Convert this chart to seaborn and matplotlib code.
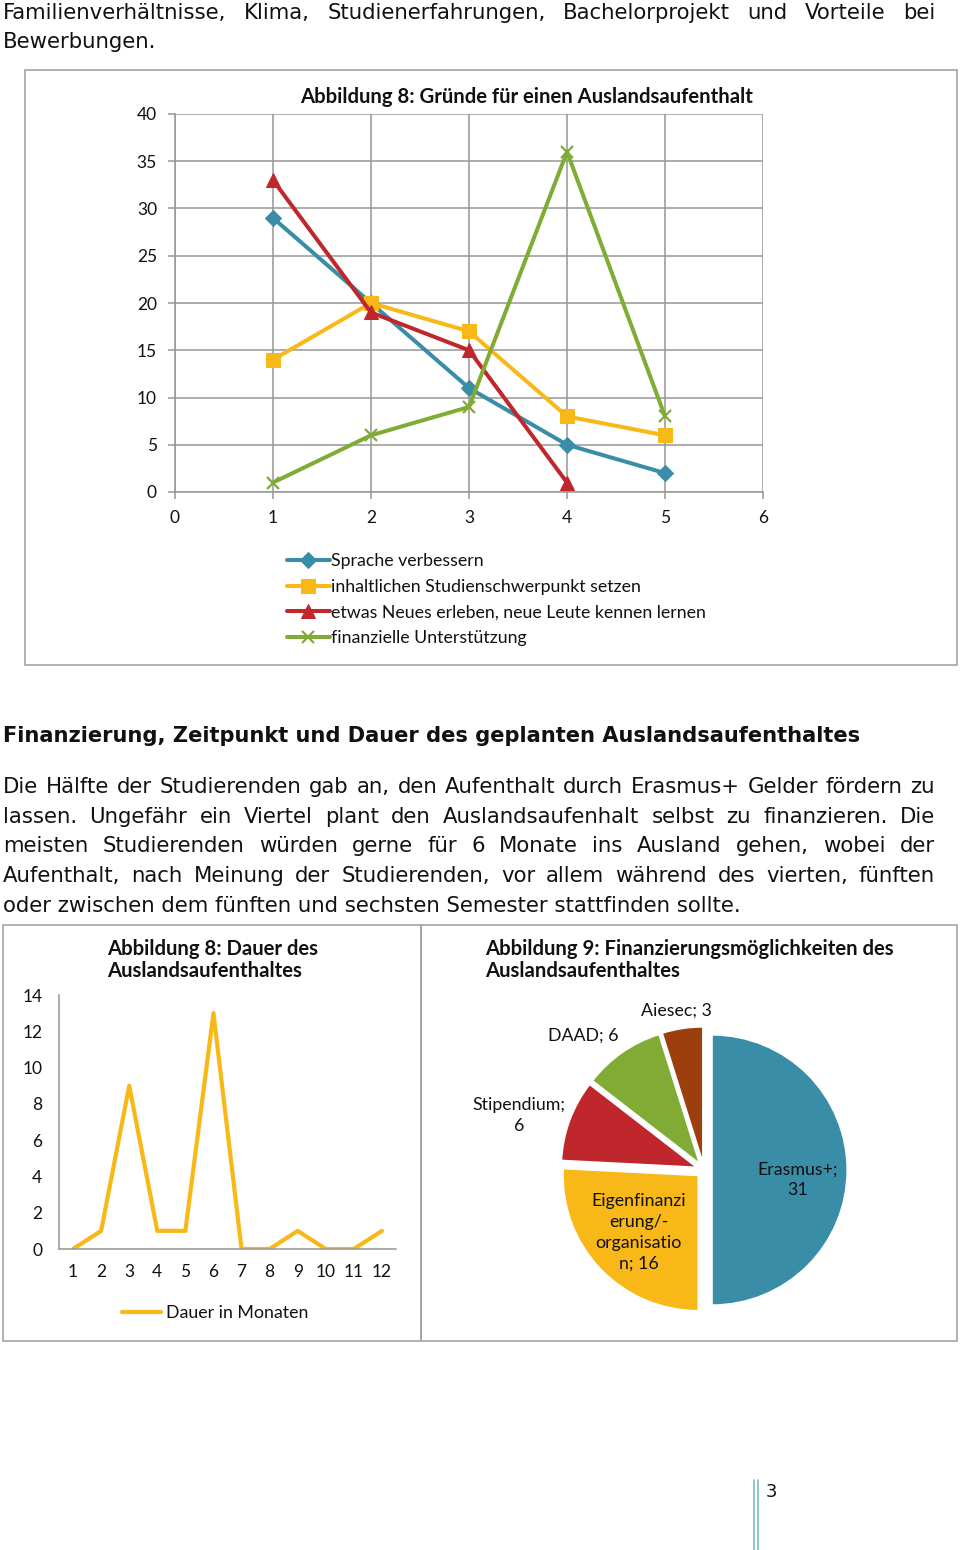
import numpy as np
import pandas as pd
import matplotlib
matplotlib.use("Agg")
import matplotlib.pyplot as plt
import seaborn as sns
from matplotlib.patches import Rectangle
from matplotlib.lines import Line2D

# ---------------- data ----------------
reason_x = [1, 2, 3, 4, 5]
sprache = [29, 20, 11, 5, 2]
inhalt = [14, 20, 17, 8, 6]
neues_x = [1, 2, 3, 4]
neues = [33, 19, 15, 1]
finanz = [1, 6, 9, 36, 8]
reason_names = ["Sprache verbessern",
                "inhaltlichen Studienschwerpunkt setzen",
                "etwas Neues erleben, neue Leute kennen lernen",
                "finanzielle Unterstützung"]

monate = [1, 2, 3, 4, 5, 6, 7, 8, 9, 10, 11, 12]
dauer = [0, 1, 9, 1, 1, 13, 0, 0, 1, 0, 0, 1]

fin_names = ["Erasmus+;\n", "Eigenfinanzi\nerung/-\norganisatio\nn; ",
             "Stipendium;\n", "DAAD; ", "Aiesec; "]
fin_values = [31, 16, 6, 6, 3]

top_text = ["Familienverhältnisse, Klima, Studienerfahrungen, Bachelorprojekt und Vorteile bei",
            "Bewerbungen."]
heading = "Finanzierung, Zeitpunkt und Dauer des geplanten Auslandsaufenthaltes"
body = ["Die Hälfte der Studierenden gab an, den Aufenthalt durch Erasmus+ Gelder fördern zu",
        "lassen. Ungefähr ein Viertel plant den Auslandsaufenhalt selbst zu finanzieren. Die",
        "meisten Studierenden würden gerne für 6 Monate ins Ausland gehen, wobei der",
        "Aufenthalt, nach Meinung der Studierenden, vor allem während des vierten, fünften",
        "oder zwischen dem fünften und sechsten Semester stattfinden sollte."]

# ---------------- style ----------------
BLUE = "#3a8da7"
YELLOW = "#f8b817"
RED = "#c0272d"
GREEN = "#80ac36"
BROWN = "#9b400c"
GRID = "#969696"
BOX = "#a3a3a3"
TXT = "#111111"
TITLE_FS = 14.6
LABEL_FS = 12.8

sns.set_theme(style="white")
plt.rcParams["font.family"] = ["Lato", "DejaVu Sans"]

W, H = 960, 1550
fig = plt.figure(figsize=(9.6, 15.5), dpi=100)
renderer = fig.canvas.get_renderer()


def fx(x):
    return x / W


def fy(y):
    return 1 - y / H


def axes_px(l, t, r, b):
    return fig.add_axes([fx(l), fy(b), (r - l) / W, (b - t) / H])


def text_width(s, size, weight="normal"):
    t = fig.text(0, 0, s, fontsize=size, fontweight=weight, family="DejaVu Sans")
    w = t.get_window_extent(renderer).width
    t.remove()
    return w


def justify(line, y, size, x0=3, x1=935, weight="normal"):
    words = line.split(" ")
    widths = [text_width(w, size, weight) for w in words]
    gap = (x1 - x0 - sum(widths)) / (len(words) - 1)
    x = x0
    for w, wd in zip(words, widths):
        fig.text(fx(x), fy(y), w, fontsize=size, fontweight=weight,
                 family="DejaVu Sans", va="baseline", ha="left", color=TXT)
        x += wd + gap


def left_text(line, y, size, x0=3, weight="normal"):
    fig.text(fx(x0), fy(y), line, fontsize=size, fontweight=weight,
             family="DejaVu Sans", va="baseline", ha="left", color=TXT)


body_size = 15 * 742 / text_width(body[-1], 15)
head_size = 15 * 859 / text_width(heading, 15, "bold")

# ---------------- page text ----------------
justify(top_text[0], 19, body_size)
left_text(top_text[1], 48, body_size)
left_text(heading, 742, head_size, weight="bold")
for i, line in enumerate(body[:-1]):
    justify(line, 793 + i * 29.7, body_size)
left_text(body[-1], 793 + 4 * 29.7, body_size)


# boxes
def box(l, t, r, b):
    fig.add_artist(Rectangle((fx(l), fy(b)), (r - l) / W, (b - t) / H,
                             transform=fig.transFigure, fill=False,
                             edgecolor=BOX, linewidth=1.2))


box(25, 70, 957, 665)
box(3, 925, 421, 1341)
box(421, 925, 957, 1341)

# ---------------- chart 1: reasons ----------------
ax1 = axes_px(175, 114, 763, 492)
sns.lineplot(x=reason_x, y=sprache, ax=ax1, color=BLUE, linewidth=2.9,
             marker="D", markersize=8, markeredgecolor=BLUE, label=reason_names[0])
sns.lineplot(x=reason_x, y=inhalt, ax=ax1, color=YELLOW, linewidth=2.9,
             marker="s", markersize=10, markeredgecolor=YELLOW, label=reason_names[1])
sns.lineplot(x=neues_x, y=neues, ax=ax1, color=RED, linewidth=2.9,
             marker="^", markersize=10, markeredgecolor=RED, label=reason_names[2])
sns.lineplot(x=reason_x, y=finanz, ax=ax1, color=GREEN, linewidth=2.9,
             marker="x", markersize=9, markeredgewidth=1.6, markeredgecolor=GREEN,
             label=reason_names[3])
ax1.set_xlim(0, 6)
ax1.set_ylim(0, 40)
ax1.set_xticks(range(0, 7))
ax1.set_yticks(range(0, 41, 5))
ax1.grid(True, color=GRID, linewidth=1.1)
ax1.set_axisbelow(True)
for s in ["top", "right"]:
    ax1.spines[s].set_visible(False)
for s in ["left", "bottom"]:
    ax1.spines[s].set_color(GRID)
    ax1.spines[s].set_linewidth(1.1)
ax1.tick_params(axis="both", which="both", direction="out", length=5, width=1.1,
                color=GRID, labelsize=12.5, labelcolor=TXT, pad=8, left=True, bottom=True)
ax1.set_xlabel("")
ax1.set_ylabel("")
fig.text(fx(527), fy(103), "Abbildung 8: Gründe für einen Auslandsaufenthalt",
         fontsize=TITLE_FS, fontweight="bold", ha="center", va="baseline", color=TXT)
ax1.legend(loc="upper left", bbox_to_anchor=(fx(287), fy(553)),
           bbox_transform=fig.transFigure, frameon=False, fontsize=LABEL_FS,
           handlelength=2.4, handletextpad=0.05, borderpad=0, borderaxespad=0,
           labelspacing=0.55, numpoints=1, labelcolor=TXT)

# ---------------- chart 2: duration ----------------
ax2 = axes_px(59, 995, 396, 1249)
sns.lineplot(x=monate, y=dauer, ax=ax2, color=YELLOW, linewidth=3.0,
             label="Dauer in Monaten")
ax2.set_xlim(0.5, 12.5)
ax2.set_ylim(0, 14)
ax2.set_xticks(monate)
ax2.set_yticks(range(0, 15, 2))
ax2.grid(False)
for s in ["top", "right"]:
    ax2.spines[s].set_visible(False)
for s in ["left", "bottom"]:
    ax2.spines[s].set_color(GRID)
    ax2.spines[s].set_linewidth(1.1)
ax2.tick_params(axis="y", length=0, labelsize=12.5, labelcolor=TXT, pad=12)
ax2.tick_params(axis="x", length=0, labelsize=12.5, labelcolor=TXT, pad=11)
ax2.set_xlabel("")
ax2.set_ylabel("")
ax2.legend(loc="center left", bbox_to_anchor=(fx(122), fy(1313)),
           bbox_transform=fig.transFigure, frameon=False, fontsize=LABEL_FS,
           handlelength=2.2, handletextpad=0.25, borderpad=0, borderaxespad=0,
           labelcolor=TXT)
fig.text(fx(107), fy(955), "Abbildung 8: Dauer des", fontsize=TITLE_FS, fontweight="bold",
         ha="left", va="baseline", color=TXT)
fig.text(fx(107), fy(977), "Auslandsaufenthaltes", fontsize=TITLE_FS, fontweight="bold",
         ha="left", va="baseline", color=TXT)

# ---------------- chart 3: pie ----------------
ax3 = axes_px(542, 1008, 866, 1332)
wedges, _ = ax3.pie(fin_values, colors=[BLUE, YELLOW, RED, GREEN, BROWN],
                    startangle=90, counterclock=False,
                    explode=[0.06] * len(fin_values),
                    wedgeprops=dict(edgecolor="white", linewidth=1.0))
ax3.set_xlim(-1.2, 1.2)
ax3.set_ylim(-1.2, 1.2)
ax3.set_aspect("equal")
label_r = [0.70, 0.67, 1.43, 1.34, 1.20]
label_dang = [-6, 0, 4, 7, 1]
for w, name, v, r, da in zip(wedges, fin_names, fin_values, label_r, label_dang):
    ang = np.deg2rad((w.theta1 + w.theta2) / 2 + da)
    ax3.text(r * np.cos(ang), r * np.sin(ang), f"{name}{v}", ha="center",
             va="center", fontsize=LABEL_FS, color=TXT, linespacing=1.38)
fig.text(fx(485), fy(955), "Abbildung 9: Finanzierungsmöglichkeiten des",
         fontsize=TITLE_FS, fontweight="bold", ha="left", va="baseline", color=TXT)
fig.text(fx(485), fy(977), "Auslandsaufenthaltes", fontsize=TITLE_FS, fontweight="bold",
         ha="left", va="baseline", color=TXT)

# ---------------- page number ----------------
for xl in (754, 757.5):
    fig.add_artist(Line2D([fx(xl), fx(xl)], [fy(1480), fy(1550)],
                          transform=fig.transFigure, color="#7dbcc4", linewidth=1.2))
fig.text(fx(766), fy(1497), "3", fontsize=13, ha="left", va="baseline", color=TXT,
         family="DejaVu Sans")

fig.savefig("out.png", dpi=100, facecolor="white")
